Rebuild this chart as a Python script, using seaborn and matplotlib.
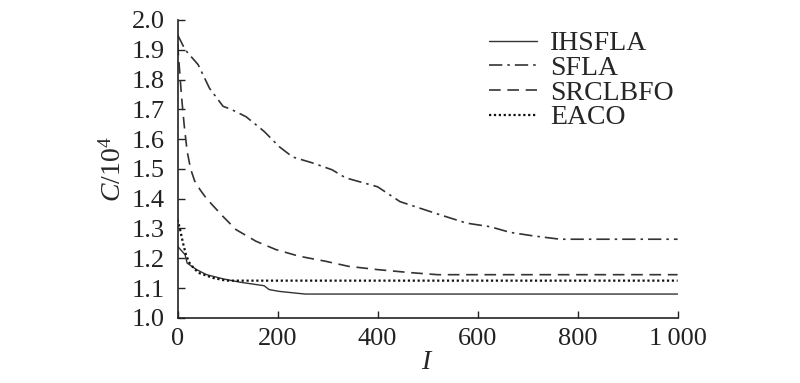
import matplotlib
matplotlib.use('Agg')
import matplotlib.pyplot as plt
import matplotlib.ticker as mticker
import numpy as np
import pandas as pd
import seaborn as sns

# iteration / cost readings (C in 10^4)
ihsfla_x = [0, 15, 19, 38, 58, 91, 124, 173, 183, 203, 243, 256, 400, 600, 800, 1000]
ihsfla_y = [1.24, 1.212, 1.184, 1.162, 1.145, 1.131, 1.12, 1.108, 1.095, 1.089, 1.082, 1.080, 1.080, 1.080, 1.080, 1.080]

sfla_x = [0, 15, 41, 64, 91, 107, 137, 173, 203, 230, 270, 309, 336, 400, 445, 525, 578, 625, 665, 712, 765, 850, 1000]
sfla_y = [1.95, 1.90, 1.85, 1.77, 1.71, 1.70, 1.675, 1.626, 1.575, 1.54, 1.52, 1.497, 1.47, 1.44, 1.39, 1.346, 1.318, 1.306, 1.287, 1.275, 1.264, 1.264, 1.264]

srclbfo_x = [0, 4, 8, 13, 19, 26, 34, 45, 58, 91, 117, 157, 197, 243, 296, 342, 400, 465, 520, 700, 1000]
srclbfo_y = [1.92, 1.83, 1.74, 1.65, 1.56, 1.50, 1.46, 1.43, 1.40, 1.34, 1.296, 1.257, 1.229, 1.207, 1.19, 1.173, 1.162, 1.152, 1.145, 1.145, 1.145]

eaco_x = [0, 5, 11, 17, 24, 33, 44, 71, 97, 200, 600, 1000]
eaco_y = [1.33, 1.296, 1.25, 1.21, 1.184, 1.165, 1.15, 1.134, 1.125, 1.125, 1.125, 1.125]

series = {
    'IHSFLA': (ihsfla_x, ihsfla_y),
    'SFLA': (sfla_x, sfla_y),
    'SRCLBFO': (srclbfo_x, srclbfo_y),
    'EACO': (eaco_x, eaco_y),
}

x_ticks = [0, 200, 400, 600, 800, 1000]
x_ticklabels = ['0', '200', '400', '600', '800', '1\u2009000']
y_ticks = [1.0, 1.1, 1.2, 1.3, 1.4, 1.5, 1.6, 1.7, 1.8, 1.9, 2.0]

rows = []
for name, (xs, ys) in series.items():
    for a, b in zip(xs, ys):
        rows.append({'I': a, 'C': b, 'alg': name})
df = pd.DataFrame(rows)

sns.set_theme(style='ticks')
plt.rcParams['font.family'] = ['Liberation Serif', 'DejaVu Serif']
plt.rcParams['mathtext.fontset'] = 'custom'
plt.rcParams['mathtext.rm'] = 'Liberation Serif'
plt.rcParams['mathtext.it'] = 'Liberation Serif:italic'

fig, ax = plt.subplots(figsize=(8, 3.83), dpi=100)
fig.subplots_adjust(left=0.222, right=0.847, top=0.948, bottom=0.17)

styles = {
    'IHSFLA': dict(color='#333333', lw=1.0, dashes=''),
    'SFLA': dict(color='#333333', lw=1.2, dashes=(8, 3, 1.5, 3)),
    'SRCLBFO': dict(color='#333333', lw=1.2, dashes=(7, 4)),
    'EACO': dict(color='#111111', lw=1.6, dashes=(1, 1.2)),
}
for name in series:
    st = styles[name]
    sub = df[df['alg'] == name]
    sns.lineplot(data=sub, x='I', y='C', ax=ax, color=st['color'], linewidth=st['lw'], label=name)
    if st['dashes']:
        ax.lines[-1].set_dashes(st['dashes'])

ax.set_xlim(0, 1000)
ax.set_ylim(1.0, 2.0)
ax.set_xticks(x_ticks)
ax.set_xticklabels(x_ticklabels)
ax.set_yticks(y_ticks)
ax.yaxis.set_major_formatter(mticker.FormatStrFormatter('%.1f'))
ax.tick_params(direction='in', length=5, width=1, labelsize=19, colors='#222222')
ax.tick_params(axis='y', pad=9)
ax.tick_params(axis='x', pad=7)
for s in ['top', 'right']:
    ax.spines[s].set_visible(False)
for s in ['left', 'bottom']:
    ax.spines[s].set_linewidth(1.2)
    ax.spines[s].set_color('#222222')

ax.set_xlabel('$I$', fontsize=20, labelpad=0)
ax.set_ylabel('$C$/10$^4$', fontsize=20, labelpad=4)

leg = ax.legend(loc='upper left', bbox_to_anchor=(0.6, 1.0), frameon=False, fontsize=20,
                handlelength=1.75, handletextpad=0.45, labelspacing=-0.03, borderaxespad=0)

fig.savefig('out.png', dpi=100)
